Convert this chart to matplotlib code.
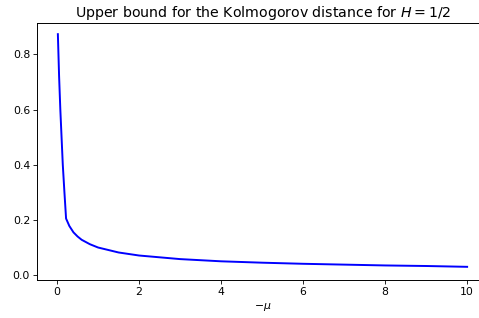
import matplotlib

matplotlib.use("Agg")
import matplotlib.pyplot as plt

# values
neg_mu = [0.02, 0.05, 0.08, 0.11, 0.14, 0.18, 0.22, 0.3, 0.4, 0.5, 0.6, 0.8,
          1.0, 1.5, 2.0, 3.0, 4.0, 5.0, 6.0, 7.0, 8.0, 9.0, 10.0]
bound = [0.873, 0.72, 0.60, 0.50, 0.40, 0.30, 0.205, 0.178, 0.155, 0.140,
         0.128, 0.112, 0.100, 0.082, 0.071, 0.058, 0.050, 0.045, 0.041,
         0.038, 0.035, 0.033, 0.030]

fig = plt.figure(figsize=(4.79, 3.18), dpi=100)
ax = fig.add_axes([0.078, 0.121, 0.94, 0.808])
ax.plot(neg_mu, bound, color="blue", linewidth=1.4)
ax.set_xlim(-0.48, 10.5)
ax.set_ylim(-0.016, 0.915)
ax.set_xticks([0, 2, 4, 6, 8, 10])
ax.set_yticks([0.0, 0.2, 0.4, 0.6, 0.8])
ax.tick_params(labelsize=7.8, length=2.8, width=0.6, pad=2.5)
for s in ax.spines.values():
    s.set_linewidth(0.7)
ax.spines["right"].set_visible(False)
ax.set_xlabel(r"$-\mu$", fontsize=7.8, labelpad=3)
ax.set_title(r"Upper bound for the Kolmogorov distance for $H = 1/2$",
             fontsize=10.2, pad=4)

fig.savefig("out.png", dpi=100)
